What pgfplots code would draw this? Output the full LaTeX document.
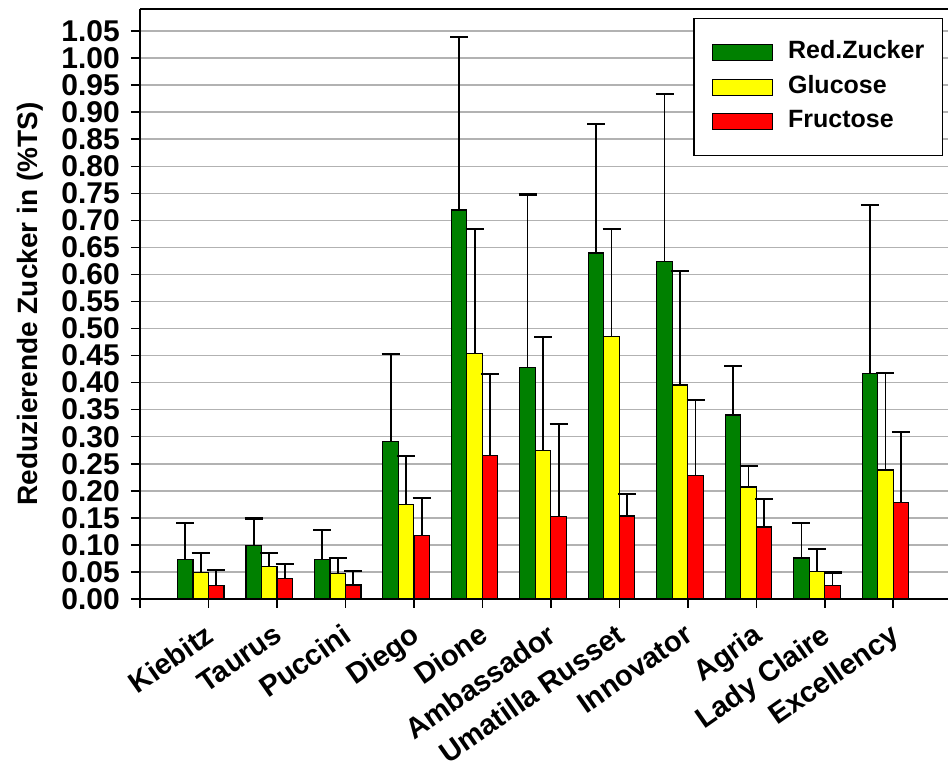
\documentclass[border=0pt]{standalone}
\usepackage{fontspec}
\setmainfont{Liberation Sans}
\usepackage{pgfplots}
\usepackage{pgfplotstable}
\pgfplotsset{compat=1.18}
\definecolor{bargreen}{RGB}{0,128,0}
\definecolor{baryellow}{RGB}{255,255,0}
\definecolor{barred}{RGB}{255,0,0}
\definecolor{gridgray}{RGB}{178,178,178}
\pgfplotsset{
  mylegend/.style={legend image code/.code={\draw[##1] (0pt,-8pt) rectangle (60pt,8pt); \path (75pt,0pt);}},
  mybar/.style={ybar, bar width=15.5pt, bar shift=0pt, draw=black, line width=1.2pt, mylegend,
    error bars/y dir=plus, error bars/y explicit,
    error bars/error mark=-,
    error bars/error bar style={line width=1.8pt, black},
    error bars/error mark options={rotate=90, line width=2.2pt, black, mark size=9pt}},
}

\pgfplotstableread{
x  g      ge     y      ye     r      re
1  0.073  0.067  0.0486 0.037  0.0246 0.029
2  0.099  0.050  0.060  0.0256 0.0376 0.0264
3  0.073  0.0546 0.0475 0.0277 0.0259 0.0265
4  0.2915 0.1615 0.175  0.0894 0.117  0.070
5  0.719  0.3206 0.4535 0.230  0.266  0.1506
6  0.4277 0.3203 0.275  0.210  0.152  0.172
7  0.6397 0.2383 0.4856 0.199  0.1534 0.0406
8  0.6243 0.3093 0.3956 0.2108 0.228  0.1399
9  0.340  0.0908 0.207  0.0389 0.133  0.0519
10 0.0758 0.0647 0.0512 0.0406 0.0246 0.0244
11 0.4166 0.3114 0.2385 0.1795 0.1788 0.1299
}\data

\begin{document}
\begin{tikzpicture}
\begin{axis}[
  name=ax,
  scale only axis, width=808pt, height=590pt,
  xmin=0, xmax=11.8, ymin=0, ymax=1.0908,
  axis x line*=box, axis y line*=left,
  axis line style={black, line width=1.5pt},
  xtick={0,...,11},
  xticklabels={,Kiebitz,Taurus,Puccini,Diego,Dione,Ambassador,Umatilla Russet,Innovator,Agria,Lady Claire,Excellency},
  xtick pos=bottom,
  ytick distance=0.05,
  ytick pos=left,
  tick align=outside,
  major tick length=9pt,
  tick style={black, line width=1.5pt},
  ymajorgrids,
  major grid style={gridgray, line width=1.5pt},
  /pgf/number format/assume math mode=true,
  yticklabel style={/pgf/number format/fixed, /pgf/number format/fixed zerofill, /pgf/number format/precision=2},
  yticklabel style={font=\fontsize{30}{30}\selectfont\bfseries, inner sep=0pt, xshift=-11pt},
  xticklabel style={font=\fontsize{29}{29}\selectfont\bfseries, rotate=35, anchor=north east, inner sep=0pt, xshift=-12pt, yshift=-9pt},
  ylabel={Reduzierende Zucker in (\%TS)},
  every axis y label/.style={at={(axis description cs:-0.1361,0.5)}, rotate=90, anchor=center, font=\fontsize{28}{28}\selectfont\bfseries},
  legend style={at={(rel axis cs:1,1)}, anchor=north east, xshift=-5pt, yshift=-9pt,
    draw=black, line width=1.5pt, fill=white,
    font=\fontsize{25}{25}\selectfont\bfseries,
    inner xsep=18pt, inner ysep=22pt, row sep=10.5pt,
    nodes={inner sep=0pt, text height=18pt, text depth=6pt}},
  legend cell align=left,
]
\addplot[mybar, fill=bargreen]
  table[x expr=\thisrow{x}-0.3396, y=g, y error=ge]{\data};
\addlegendentry{Red.Zucker}
\addplot[mybar, fill=baryellow]
  table[x expr=\thisrow{x}-0.1132, y=y, y error=ye]{\data};
\addlegendentry{Glucose}
\addplot[mybar, fill=barred]
  table[x expr=\thisrow{x}+0.1132, y=r, y error=re]{\data};
\addlegendentry{Fructose}
\end{axis}
\pgfresetboundingbox
\useasboundingbox ([xshift=-140pt,yshift=-166pt]ax.south west) rectangle ([yshift=9pt]ax.north east);
\end{tikzpicture}
\end{document}
